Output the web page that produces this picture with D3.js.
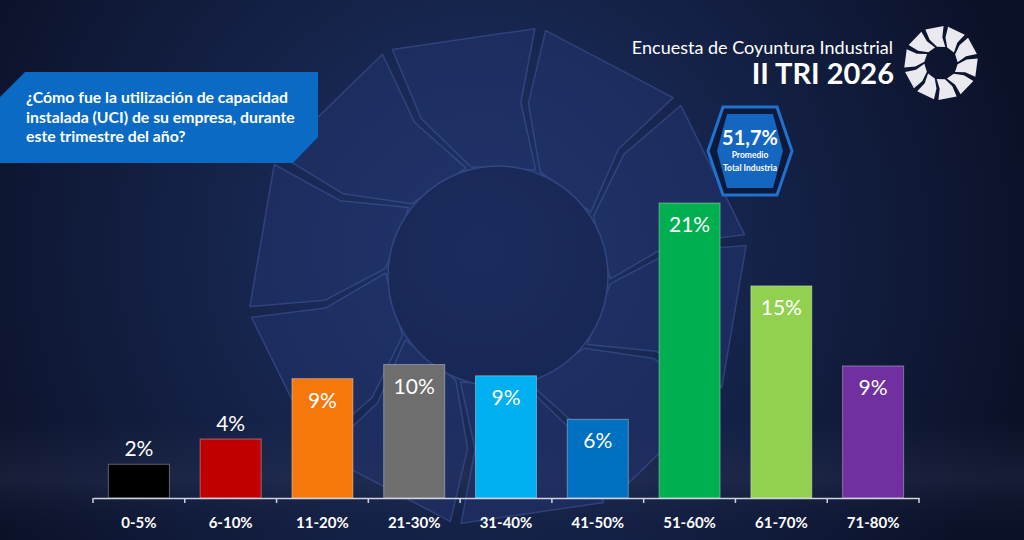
<!DOCTYPE html>
<html>
<head>
<meta charset="utf-8" />
<title>UCI II TRI 2026</title>
<script src="https://cdn.jsdelivr.net/npm/d3@7/dist/d3.min.js"></script>
<style>
  html, body { margin: 0; padding: 0; background: #0d1530; }
  svg { display: block; }
  text { font-family: Lato, "Open Sans", sans-serif; fill: #fff; }
  .axis-label { font-size: 15px; font-weight: 700; }
  .bar-label { font-size: 21px; }
</style>
</head>
<body>
<svg id="chart" width="1024" height="540"></svg>
<script>
// data
const categories = ["0-5%", "6-10%", "11-20%", "21-30%", "31-40%", "41-50%", "51-60%", "61-70%", "71-80%"];
const values = [2.4, 4.2, 8.5, 9.5, 8.7, 5.6, 21.0, 15.1, 9.4];
const barColors = ["#000000", "#c00000", "#f4780c", "#6e6e6e", "#00b0f0", "#0070c0", "#00b050", "#92d050", "#7030a0"];
const questionLines = ["¿Cómo fue la utilización de capacidad", "instalada (UCI) de su empresa, durante", "este trimestre del año?"];
const average = "51,7%";
const averageLines = ["Promedio", "Total Industria"];

const W = 1024, H = 540;
const svg = d3.select("#chart");
const defs = svg.append("defs");

// background
let bg = defs.append("radialGradient").attr("id", "bg")
  .attr("gradientUnits", "userSpaceOnUse")
  .attr("cx", 480).attr("cy", 250).attr("r", 560);
bg.append("stop").attr("offset", 0).attr("stop-color", "#23376f");
bg.append("stop").attr("offset", 0.4).attr("stop-color", "#17264f");
bg.append("stop").attr("offset", 1).attr("stop-color", "#0b1128");
svg.append("rect").attr("width", W).attr("height", H).attr("fill", "url(#bg)");

let floor = defs.append("linearGradient").attr("id", "floor").attr("x1", 0).attr("y1", 0).attr("x2", 0).attr("y2", 1);
floor.append("stop").attr("offset", 0).attr("stop-color", "#3a4260").attr("stop-opacity", 0);
floor.append("stop").attr("offset", 0.5).attr("stop-color", "#3a4260").attr("stop-opacity", 0.25);
floor.append("stop").attr("offset", 1).attr("stop-color", "#0b1128").attr("stop-opacity", 0);
svg.append("rect").attr("x", 0).attr("y", 420).attr("width", W).attr("height", 120).attr("fill", "url(#floor)");

// ring logo made of 10 nested chevrons
function drawLogo(g, cx, cy, ro, fill, stroke, rot, gap) {
  let ri = ro * 0.45, rm = ro * 0.7;
  let shape = [[0, rm], [7, ro], [43 - gap, ro], [36 - gap, rm], [43 - gap, ri], [7, ri]];
  let pieces = d3.range(10).map(i => shape.map(([a, r]) => {
    let t = (i * 36 + a + rot - 90) * Math.PI / 180 - (r - rm) / ro * 0.35;
    return [cx + r * Math.cos(t), cy + r * Math.sin(t)];
  }));
  g.selectAll("path").data(pieces).enter().append("path")
    .attr("d", d => d3.line()(d) + "Z")
    .attr("fill", fill)
    .attr("stroke", stroke)
    .attr("stroke-linejoin", "round");
}

let bigLogo = svg.append("g").attr("opacity", 0.6);
drawLogo(bigLogo, 498, 276, 250, "#21326a", "#3f5598", 10, 2.5);
bigLogo.selectAll("path").attr("stroke-width", 1.5);
bigLogo.append("circle").attr("cx", 498).attr("cy", 276).attr("r", 110)
  .attr("fill", "#172552").attr("stroke", "#3f5598").attr("stroke-width", 1.5);

drawLogo(svg.append("g"), 941, 63, 37, "#e9e9ef", "none", 10, 7);

// title
svg.append("text").attr("x", 893).attr("y", 54).attr("text-anchor", "end")
  .style("font-size", "18px").text("Encuesta de Coyuntura Industrial");
svg.append("text").attr("x", 894).attr("y", 84).attr("text-anchor", "end")
  .style("font-size", "29px").style("font-weight", 700).text("II TRI 2026");

// question box
svg.append("path")
  .attr("d", d3.line()([[25, 72], [318, 72], [318, 137], [293, 163], [0, 163], [0, 97]]) + "Z")
  .attr("fill", "#0a6ac4");
svg.append("g").selectAll("text").data(questionLines).enter().append("text")
  .attr("x", 26).attr("y", (d, i) => 103 + i * 19.5)
  .style("font-size", "15.8px").style("font-weight", 700)
  .text(d => d);

// average badge
let hx = 750, hy = 151;
function hex(w, t, h) {
  return d3.line()([[hx - w, hy], [hx - t, hy - h], [hx + t, hy - h], [hx + w, hy], [hx + t, hy + h], [hx - t, hy + h]]) + "Z";
}
svg.append("path").attr("d", hex(42, 27, 44)).attr("fill", "#0d1a3c").attr("stroke", "#1f72cf").attr("stroke-width", 3);
svg.append("path").attr("d", hex(33, 23, 37)).attr("fill", "#1566c0");
svg.append("text").attr("x", hx).attr("y", 145).attr("text-anchor", "middle")
  .style("font-size", "20px").style("font-weight", 700).text(average);
svg.append("g").selectAll("text").data(averageLines).enter().append("text")
  .attr("x", hx).attr("y", (d, i) => 158 + i * 13).attr("text-anchor", "middle")
  .style("font-size", "8.5px").style("font-weight", 700).text(d => d);

// bars
let x = d3.scaleBand().domain(categories).range([93, 919]).paddingInner(0.335).paddingOuter(0.1675);
let y = d3.scaleLinear().domain([0, 21]).range([498, 203]);

let bars = svg.append("g").selectAll("g").data(values).enter().append("g");
bars.append("rect")
  .attr("x", (d, i) => x(categories[i]))
  .attr("y", d => y(d))
  .attr("width", x.bandwidth())
  .attr("height", d => y(0) - y(d))
  .attr("fill", (d, i) => barColors[i])
  .attr("stroke", "rgba(255,255,255,0.35)")
  .attr("stroke-width", 1);
bars.append("text").attr("class", "bar-label")
  .attr("x", (d, i) => x(categories[i]) + x.bandwidth() / 2)
  .attr("y", d => d >= 5 ? y(d) + 29 : y(d) - 8)
  .attr("text-anchor", "middle")
  .text(d => Math.round(d) + "%");

// axis
let axis = svg.append("g").attr("transform", "translate(0,498)")
  .call(d3.axisBottom(x).tickSize(0).tickPadding(19));
axis.select(".domain").attr("stroke", "#d0d3dc").attr("stroke-width", 1.5);
axis.selectAll("text").attr("class", "axis-label").attr("fill", "#fff").attr("font-family", null).attr("font-size", null);
axis.selectAll(".edge").data(d3.range(categories.length + 1)).enter().append("line")
  .attr("class", "edge")
  .attr("x1", i => 93 + i * x.step()).attr("x2", i => 93 + i * x.step())
  .attr("y1", 0).attr("y2", 5)
  .attr("stroke", "#d0d3dc").attr("stroke-width", 1.5);
</script>
</body>
</html>
